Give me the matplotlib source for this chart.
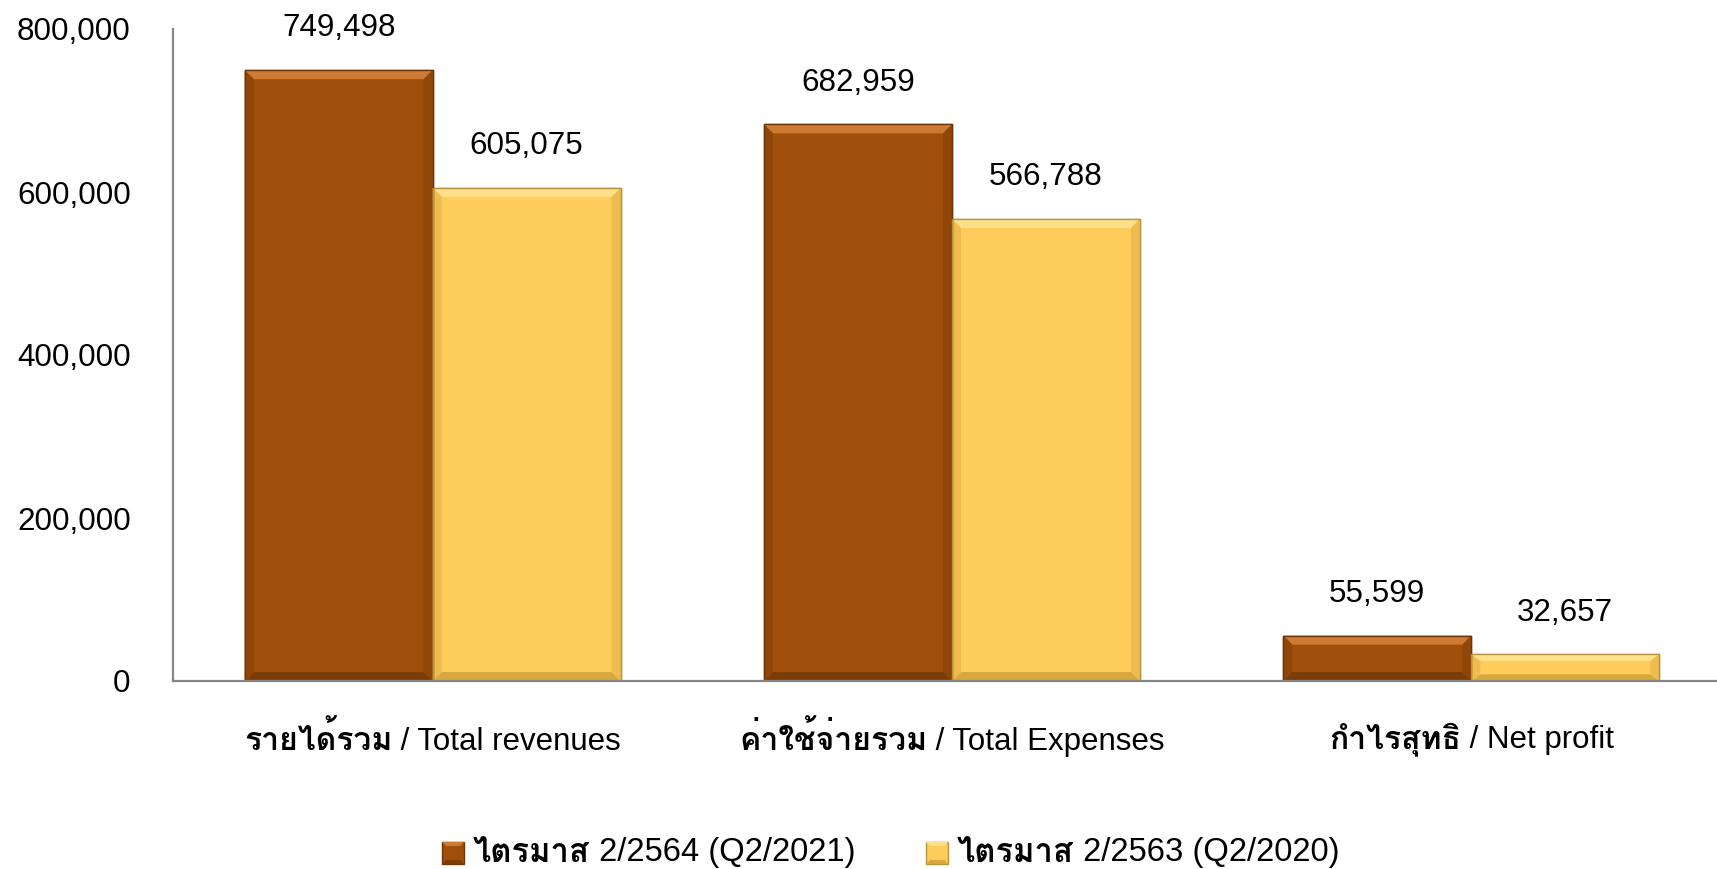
import matplotlib
matplotlib.use("Agg")
import matplotlib.pyplot as plt
import numpy as np
from matplotlib import font_manager
from matplotlib.ft2font import FT2Font
from matplotlib.offsetbox import TextArea, HPacker, DrawingArea, AnnotationBbox
from matplotlib.patches import Rectangle, Polygon

# ---------------- data ----------------
categories_th = ["รายได้รวม", "ค่าใช้จ่ายรวม", "กำไรสุทธิ"]
categories_en = [" / Total revenues", " / Total Expenses", " / Net profit"]
series_th = ["ไตรมาส", "ไตรมาส"]
series_en = [" 2/2564 (Q2/2021)", " 2/2563 (Q2/2020)"]
q2_2021 = [749498, 682959, 55599]
q2_2020 = [605075, 566788, 32657]
yticks = [0, 200000, 400000, 600000, 800000]

# ---------------- fonts ----------------
def find_thai_font():
    best = None
    for f in font_manager.fontManager.ttflist:
        try:
            cm = FT2Font(f.fname).get_charmap()
        except Exception:
            continue
        if 0x0E23 in cm and 0x0E44 in cm:
            score = 1 if str(f.weight) in ("bold", "700") else 0
            if best is None or score > best[0]:
                best = (score, f.name)
    return best[1] if best else None

thai = find_thai_font()
latin = "Liberation Sans"
thai_family = [thai, latin] if thai else [latin, "DejaVu Sans"]
plt.rcParams["font.family"] = [latin, "DejaVu Sans"]

W, H = 1717, 869
fig = plt.figure(figsize=(W / 100, H / 100), dpi=100)
ax = fig.add_axes([173 / W, 1 - 681 / H, 1 - 173 / W, (681 - 29) / H])

brown = "#A04F0B"
yellow = "#FDCC5A"
styles = {
    "brown": dict(main=brown, edge="#6E3608", top="#CF7A32", side="#904608", bottom="#7C3C06"),
    "yellow": dict(main=yellow, edge="#B89440", top="#FFE08A", side="#EEBC4E", bottom="#D8A840"),
}
bw = 0.362
x = np.arange(len(categories_th))
ylim = (0, 800000)
xlim = (-0.5, 2.5 - 14 / 520)
ax.set_ylim(*ylim)
ax.set_xlim(*xlim)

b1 = ax.bar(x - bw / 2, q2_2021, bw, color=brown, edgecolor=styles["brown"]["edge"], linewidth=1.0, zorder=3)
b2 = ax.bar(x + bw / 2, q2_2020, bw, color=yellow, edgecolor=styles["yellow"]["edge"], linewidth=1.0, zorder=3)

# bevel decoration derived from the bar geometry
ax_w_px = W * (1 - 173 / W)
ax_h_px = 681 - 29
px_x = (xlim[1] - xlim[0]) / ax_w_px
px_y = (ylim[1] - ylim[0]) / ax_h_px
bev = 9
for bars, st in ((b1, styles["brown"]), (b2, styles["yellow"])):
    for r in bars:
        x0, y0 = r.get_x(), r.get_y()
        x1, y1 = x0 + r.get_width(), y0 + r.get_height()
        dx, dy = bev * px_x, min(bev * px_y, r.get_height() / 4)
        polys = [
            ([(x0, y1), (x1, y1), (x1 - dx, y1 - dy), (x0 + dx, y1 - dy)], st["top"]),
            ([(x0, y0), (x1, y0), (x1 - dx, y0 + dy), (x0 + dx, y0 + dy)], st["bottom"]),
            ([(x0, y0), (x0, y1), (x0 + dx, y1 - dy), (x0 + dx, y0 + dy)], st["side"]),
            ([(x1, y0), (x1, y1), (x1 - dx, y1 - dy), (x1 - dx, y0 + dy)], st["side"]),
        ]
        for pts, c in polys:
            ax.add_patch(Polygon(pts, closed=True, facecolor=c, edgecolor="none", zorder=3.5))
        ax.add_patch(Rectangle((x0, y0), r.get_width(), r.get_height(), facecolor="none",
                               edgecolor=st["edge"], linewidth=1.0, zorder=3.6))

fs = 22.6
for bars, vals in ((b1, q2_2021), (b2, q2_2020)):
    for r, v in zip(bars, vals):
        ax.annotate(f"{v:,}", (r.get_x() + r.get_width() / 2, v), xytext=(0, 30),
                    textcoords="offset points", ha="center", va="center", fontsize=fs)

ax.set_yticks(yticks)
ax.set_yticklabels([f"{t:,}" for t in yticks], fontsize=fs)
ax.tick_params(axis="y", length=0, pad=30.5)
ax.set_xticks([])
for s in ("top", "right"):
    ax.spines[s].set_visible(False)
for s in ("left", "bottom"):
    ax.spines[s].set_color("#868686")
    ax.spines[s].set_linewidth(1.6)
    ax.spines[s].set_zorder(4)

trans = ax.get_xaxis_transform()
for i in range(len(categories_th)):
    t1 = TextArea(categories_th[i], textprops=dict(fontsize=23, fontweight="bold", family=thai_family))
    t2 = TextArea(categories_en[i], textprops=dict(fontsize=22.5, family=[latin]))
    pk = HPacker(children=[t1, t2], align="baseline", pad=0, sep=0)
    ab = AnnotationBbox(pk, (x[i], -0.089), xycoords=trans, box_alignment=(0.5, 0.5),
                        frameon=False, pad=0, annotation_clip=False)
    ax.add_artist(ab)

legend_x = [442, 926]
for j, key in enumerate(("brown", "yellow")):
    st = styles[key]
    da = DrawingArea(16, 16, 0, 0)
    da.add_artist(Rectangle((0, 0), 16, 16, facecolor=st["main"], edgecolor=st["edge"], linewidth=1))
    da.add_artist(Polygon([(0, 16), (16, 16), (13, 13), (3, 13)], facecolor=st["top"], edgecolor="none"))
    da.add_artist(Polygon([(0, 0), (16, 0), (13, 3), (3, 3)], facecolor=st["bottom"], edgecolor="none"))
    t1 = TextArea(series_th[j], textprops=dict(fontsize=23.6, fontweight="bold", family=thai_family))
    t2 = TextArea(series_en[j], textprops=dict(fontsize=23.6, family=[latin]))
    txt = HPacker(children=[t1, t2], align="baseline", pad=0, sep=0)
    pk = HPacker(children=[da, txt], align="center", pad=0, sep=6)
    ab = AnnotationBbox(pk, (legend_x[j] / W, 1 - 853 / H), xycoords="figure fraction",
                        box_alignment=(0, 0.5), frameon=False, pad=0, annotation_clip=False)
    fig.add_artist(ab)

fig.savefig("out.png", dpi=100)
